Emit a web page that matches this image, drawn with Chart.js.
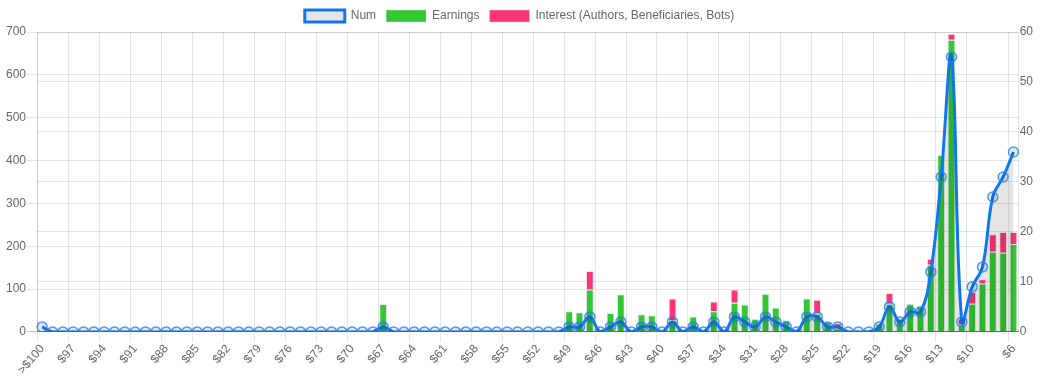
<!DOCTYPE html>
<html>
<head>
<meta charset="utf-8">
<script src="https://cdn.jsdelivr.net/npm/chart.js@4/dist/chart.umd.min.js"></script>
<style>
  html, body { margin: 0; padding: 0; background: #fff; }
  #wrap { width: 1047px; height: 387px; position: relative; }
</style>
</head>
<body>
<div id="wrap"><canvas id="priceChart"></canvas></div>
<script>
// price buckets, from most expensive down to $6
const labels = [
  '>$100',
  '$99', '$98', '$97', '$96', '$95', '$94', '$93', '$92', '$91', '$90',
  '$89', '$88', '$87', '$86', '$85', '$84', '$83', '$82', '$81', '$80',
  '$79', '$78', '$77', '$76', '$75', '$74', '$73', '$72', '$71', '$70',
  '$69', '$68', '$67', '$66', '$65', '$64', '$63', '$62', '$61', '$60',
  '$59', '$58', '$57', '$56', '$55', '$54', '$53', '$52', '$51', '$50',
  '$49', '$48', '$47', '$46', '$45', '$44', '$43', '$42', '$41', '$40',
  '$39', '$38', '$37', '$36', '$35', '$34', '$33', '$32', '$31', '$30',
  '$29', '$28', '$27', '$26', '$25', '$24', '$23', '$22', '$21', '$20',
  '$19', '$18', '$17', '$16', '$15', '$14', '$13', '$12', '$11', '$10',
  '$9', '$8', '$7', '$6'
];

// count per bucket (right axis)
const num = [
  1,
  0, 0, 0, 0, 0, 0, 0, 0, 0, 0,
  0, 0, 0, 0, 0, 0, 0, 0, 0, 0,
  0, 0, 0, 0, 0, 0, 0, 0, 0, 0,
  0, 0, 1, 0, 0, 0, 0, 0, 0, 0,
  0, 0, 0, 0, 0, 0, 0, 0, 0, 0,
  1, 1, 3, 0, 1, 2, 0, 1, 1, 0,
  2, 0, 1, 0, 2, 0, 3, 2, 1, 3,
  2, 1, 0, 3, 3, 1, 1, 0, 0, 0,
  1, 5, 2, 4, 4, 12, 31, 55, 2, 9,
  13, 27, 31, 36
];

// earnings per bucket (left axis, stacked)
const earnings = [
  0,
  0, 0, 0, 0, 0, 0, 0, 0, 0, 0,
  0, 0, 0, 0, 0, 0, 0, 0, 0, 0,
  0, 0, 0, 0, 0, 0, 0, 0, 0, 0,
  0, 0, 65, 0, 0, 0, 0, 0, 0, 0,
  0, 0, 0, 0, 0, 0, 0, 0, 0, 0,
  48, 46, 99, 0, 44, 88, 0, 41, 39, 0,
  28, 0, 36, 0, 48, 0, 68, 64, 31, 89,
  57, 27, 0, 78, 43, 23, 8, 0, 0, 0,
  19, 66, 31, 66, 60, 157, 413, 682, 18, 66,
  113, 187, 185, 205
];

// interest (authors, beneficiaries, bots)
const interest = [
  0,
  0, 0, 0, 0, 0, 0, 0, 0, 0, 0,
  0, 0, 0, 0, 0, 0, 0, 0, 0, 0,
  0, 0, 0, 0, 0, 0, 0, 0, 0, 0,
  0, 0, 0, 0, 0, 0, 0, 0, 0, 0,
  0, 0, 0, 0, 0, 0, 0, 0, 0, 0,
  0, 0, 43, 0, 0, 0, 0, 0, 0, 0,
  50, 0, 0, 0, 23, 0, 31, 0, 0, 0,
  0, 0, 0, 0, 32, 0, 12, 0, 0, 0,
  0, 25, 0, 0, 0, 14, 0, 14, 13, 27,
  10, 41, 48, 28
];

Chart.defaults.font.family = "'Helvetica Neue', 'Helvetica', 'Arial', sans-serif";
Chart.defaults.font.size = 12;
Chart.defaults.color = '#666';

// every third bucket gets a label, plus the last one
const lastIdx = labels.length - 1;
const showTick = i => i === lastIdx || (i % 3 === 0 && i < lastIdx - 1);
const gridColor = c => c.tick && c.tick.value === 0 ? 'rgba(0,0,0,0.25)' : 'rgba(0,0,0,0.1)';

const ctx = document.getElementById('priceChart').getContext('2d');
new Chart(ctx, {
  type: 'bar',
  data: {
    labels: labels,
    datasets: [{
      type: 'line',
      label: 'Num',
      data: num,
      yAxisID: 'y1',
      borderColor: 'rgb(16,118,240)',
      borderWidth: 3,
      backgroundColor: 'rgba(0,0,0,0.1)',
      fill: 'origin',
      tension: 0.4,
      pointRadius: 5,
      pointBorderWidth: 1.5,
      pointBorderColor: 'rgba(30,130,245,0.8)',
      pointBackgroundColor: 'rgba(0,0,0,0.1)'
    }, {
      label: 'Earnings',
      data: earnings,
      yAxisID: 'y',
      backgroundColor: '#33c833',
      borderColor: 'rgba(215,215,215,0.5)',
      borderWidth: 1,
      barPercentage: 0.95
    }, {
      label: 'Interest (Authors, Beneficiaries, Bots)',
      data: interest,
      yAxisID: 'y',
      backgroundColor: '#ff3377',
      borderColor: 'rgba(215,215,215,0.5)',
      borderWidth: 1,
      barPercentage: 0.95
    }]
  },
  options: {
    responsive: true,
    maintainAspectRatio: false,
    animation: false,
    layout: { padding: { left: 5, right: 13, bottom: 10 } },
    plugins: {
      legend: {
        position: 'top',
        labels: { boxWidth: 40, boxHeight: 12, padding: 10 }
      },
      tooltip: { enabled: false }
    },
    scales: {
      x: {
        stacked: true,
        grid: {
          offset: true,
          tickLength: 10,
          color: c => showTick(c.index) ? 'rgba(0,0,0,0.1)' : 'rgba(0,0,0,0)'
        },
        border: { color: 'rgba(0,0,0,0.25)' },
        ticks: {
          autoSkip: false,
          minRotation: 50,
          maxRotation: 50,
          padding: 0,
          callback: function (value, index) {
            return showTick(index) ? this.getLabelForValue(value) : '';
          }
        }
      },
      y: {
        stacked: true,
        position: 'left',
        min: 0,
        max: 700,
        ticks: { stepSize: 100, padding: 1 },
        grid: { tickLength: 10, color: gridColor }
      },
      y1: {
        position: 'right',
        min: 0,
        max: 60,
        ticks: { stepSize: 10, padding: 1 },
        grid: { drawTicks: false, color: gridColor }
      }
    }
  }
});
</script>
</body>
</html>
